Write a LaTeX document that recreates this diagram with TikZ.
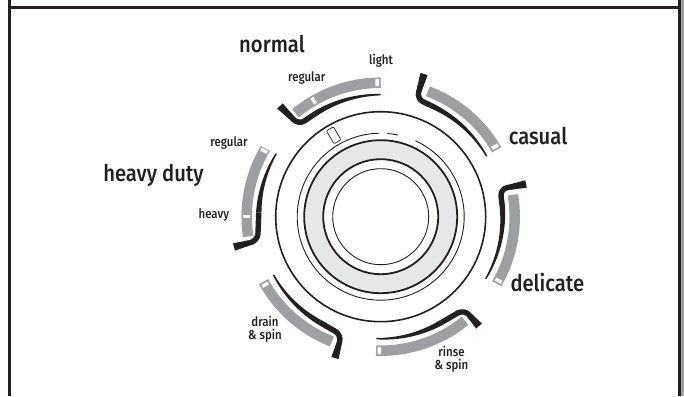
\documentclass[tikz,border=0pt]{standalone}
\usepackage{fontspec}
\setmainfont{Fira Sans Medium}[FakeStretch=0.88]
\usepackage{tikz}
\usetikzlibrary{calc}
\definecolor{inkblack}{HTML}{231F20}
\definecolor{bandgray}{HTML}{9D9FA2}
\definecolor{ringgray}{HTML}{E6E7E8}
\tikzset{
	bigtext/.style={anchor=base, inner sep=0pt, text=inkblack, font=\fontsize{23}{23}\selectfont},
	smalltext/.style={anchor=base, inner sep=0pt, text=inkblack, align=center, font=\fontsize{13}{13}\selectfont},
}
% one group of settings: gray band with black guide and hook
% #1 band start, #2 band end, #3 guide tip, #4 guide end, #5 corner, #6 hook end
\newcommand{\drawgroup}[6]{
	\draw[color=bandgray, line width=10.5pt] (#1:134) arc[start angle=#1, end angle=#2, radius=134];
	\fill[color=inkblack] plot[domain=#3:#4, samples=40] (\x:{122 + 0.7 + 2*(\x-#3)/(#4-#3)})
		-- plot[domain=#4:#3, samples=40] (\x:{122 - 0.7 - 2*(\x-#3)/(#4-#3)}) -- cycle;
	\draw[color=inkblack, line width=5.4pt, rounded corners=7pt] (#4:122) -- (#5) -- ($(#5)!0.6!(#6)$);
	\fill[color=inkblack] ($($(#5)!0.4!(#6)$)!2.7pt!90:(#6)$) -- ($(#6)!3.8pt!-90:(#5)$)
		-- ($(#6)!3.8pt!90:(#5)$) -- ($($(#5)!0.4!(#6)$)!2.7pt!-90:(#6)$) -- cycle;
}
% white tab inside a band
\newcommand{\drawtab}[2]{
	\node[fill=white, minimum width=7pt, minimum height=3.5pt, inner sep=0pt, rotate=#2] (#1) at (#2:134) {};
}
\begin{document}
\begin{tikzpicture}[x=1pt, y=1pt]
	\useasboundingbox (0,0) rectangle (684,396);
	% frame
	\fill[color=bandgray] (680,0) rectangle (684,396);
	\draw[color=inkblack, line width=3pt] (9.5,0) -- (9.5,396);
	\draw[color=inkblack, line width=3pt] (679,0) -- (679,396);
	\draw[color=inkblack, line width=3pt] (9.5,388.5) -- (679,388.5);
	\begin{scope}[shift={(380.7,179.3)}]
		% dial
		\draw[color=inkblack, line width=1.6pt] (0,0) circle (105);
		\draw[color=inkblack, line width=1.8pt, fill=ringgray] (0,0) circle (76.5);
		\draw[color=inkblack, line width=1.8pt, fill=white] (0,0) circle (57.5);
		\draw[color=inkblack, line width=0.9pt] (0,0) circle (48);
		\draw[color=inkblack, line width=0.9pt] (91:83.5) arc[start angle=91, end angle=425.4, radius=83.5];
		\draw[color=inkblack, line width=0.9pt] (78:83.5) arc[start angle=78, end angle=85.4, radius=83.5];
		\node[draw=inkblack, line width=0.7pt, fill=white, rounded corners=1pt, minimum width=15pt, minimum height=8pt, inner sep=0pt, rotate=120] (pointer) at (120:94) {};
		% groups, clockwise from the top
		\drawgroup{90}{129.5}{90}{123}{-82,91.9}{-100.7,110.7}
		\drawgroup{30}{69.4}{29.7}{66}{36,118}{43.3,142.7}
		\drawgroup{-30}{9.4}{-30.6}{5}{119.5,27.7}{145.3,32.7}
		\drawgroup{-92}{-51}{-92}{-60}{83.3,-92.7}{98.3,-109.3}
		\drawgroup{209}{248.6}{208.4}{240}{-39.2,-118.2}{-45.7,-141.3}
		\drawgroup{149.4}{188.5}{148.9}{178}{-123,-23.9}{-146.7,-30.3}
		% tabs
		\drawtab{tablight}{91.5}
		\drawtab{tabregular}{120}
		\drawtab{tabcasual}{31.5}
		\drawtab{tabdelicate}{-28.5}
		\drawtab{tabrinse}{-90.6}
		\drawtab{tabdrain}{210.5}
		\drawtab{tabduty}{150.5}
		\drawtab{tabheavy}{180}
		% labels
		\node[bigtext] (normal) at (-108.7,164) {normal};
		\node[bigtext] (casual) at (157.3,71.7) {casual};
		\node[bigtext] (delicate) at (166.7,-75) {delicate};
		\node[bigtext] (heavyduty) at (-227.2,34.7) {heavy duty};
		\node[smalltext] (light) at (0.3,151.7) {light};
		\node[smalltext] (regular) at (-74,135) {regular};
		\node[smalltext] (dutyregular) at (-151.7,70) {regular};
		\node[smalltext] (heavy) at (-166.8,-2.3) {heavy};
		\node[smalltext, anchor=center] (drain) at (-115.7,-112.5) {drain\\\& spin};
		\node[smalltext, anchor=center] (rinse) at (70.8,-142.1) {rinse\\\& spin};
	\end{scope}
\end{tikzpicture}
\end{document}
